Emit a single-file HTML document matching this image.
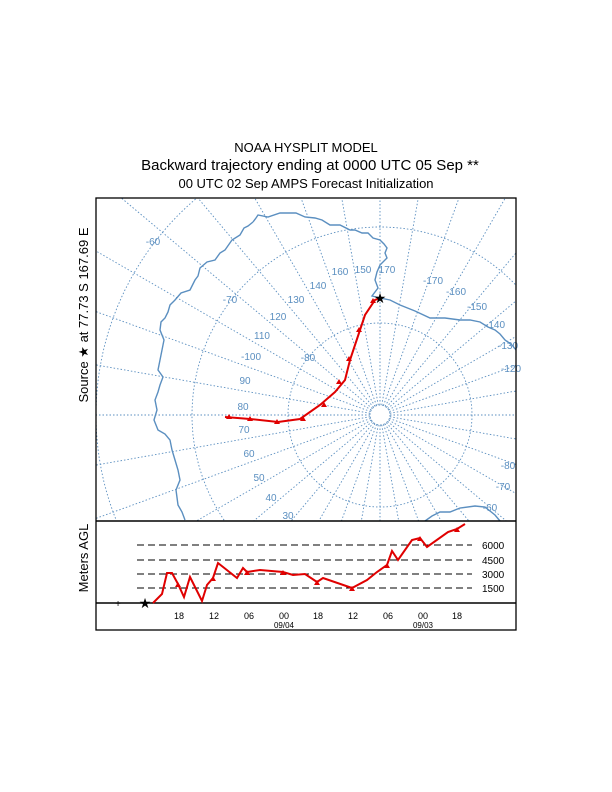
<!DOCTYPE html>
<html><head><style>
html,body{margin:0;padding:0;background:#fff;width:612px;height:792px;overflow:hidden}
svg{display:block;font-family:"Liberation Sans",sans-serif}
</style></head><body>
<svg width="612" height="792" viewBox="0 0 612 792" xmlns="http://www.w3.org/2000/svg">
<text x="306" y="152" font-size="13" text-anchor="middle">NOAA HYSPLIT MODEL</text>
<text x="310" y="170" font-size="15" text-anchor="middle">Backward trajectory ending at 0000 UTC 05 Sep **</text>
<text x="306" y="188" font-size="13" text-anchor="middle">00 UTC 02 Sep    AMPS  Forecast Initialization</text>
<text transform="translate(88,315) rotate(-90)" font-size="13" text-anchor="middle">Source ★ at  77.73 S  167.69 E</text>
<text transform="translate(88,558) rotate(-90)" font-size="13" text-anchor="middle">Meters AGL</text>
<g stroke="#5b8fc0" fill="none" stroke-width="0.9">
<g stroke-dasharray="1.5,2">
<circle cx="380" cy="415" r="10"/>
<circle cx="380" cy="415" r="92"/>
<path d="M192,415 A188,188 0 0 1 568,415" transform="translate(0,0)"/>
<g id="sp"></g>
<g id="arcs"></g>
</g>
<polyline stroke-width="1.4" points="253,222 256,218 258,215 268,217 280,213 296,213 305,217 315,218 322,220 330,225 340,225 350,230 355,230 362,233 368,233 373,238 380,240 384,244 387,248 385,253 387,258 383,262 380,265 377,272 375,280 378,288 372,296 380,298 390,300 400,305 415,311 430,318 445,318 460,320 470,320 480,322 488,327 495,330 500,334 505,340 512,345 516,350"/>
<polyline stroke-width="1.4" points="253,222 248,226 244,228 240,235 232,240 225,250 220,253 215,260 207,262 200,268 198,276 195,280 190,290 181,293 175,300 170,305 168,312 165,318 161,322 160,330 164,340 162,350 160,360 158,370 163,377 160,385 158,392 155,400 157,410 154,420 158,430 165,434 170,440 172,450 175,460 178,470 180,480 176,490 178,505 182,512 185,520"/>
<polyline stroke-width="1.4" points="425,521 432,516 440,512 450,512 460,508 475,506 485,507 495,515 500,521"/>
</g>
<g font-size="10" fill="#5b8fc0" text-anchor="middle">
<text x="153" y="245">-60</text><text x="230" y="303">-70</text>
<text x="340" y="275">160</text><text x="363" y="273">150</text><text x="387" y="273">170</text>
<text x="318" y="289">140</text><text x="296" y="303">130</text><text x="278" y="320">120</text>
<text x="262" y="339">110</text><text x="251" y="360">-100</text><text x="245" y="384">90</text>
<text x="243" y="410">80</text><text x="244" y="433">70</text><text x="249" y="457">60</text>
<text x="259" y="481">50</text><text x="271" y="501">40</text><text x="288" y="519">30</text>
<text x="308" y="361">-80</text>
<text x="433" y="284">-170</text><text x="456" y="295">-160</text><text x="477" y="310">-150</text>
<text x="495" y="328">-140</text><text x="508" y="349">-130</text><text x="511" y="372">-120</text>
<text x="508" y="469">-80</text><text x="503" y="490">-70</text><text x="490" y="511">-60</text>
</g>
<g fill="none" stroke="#e00000" stroke-width="2">
<polyline points="225,417 250,419 278,422 300,419 320,405 335,392 345,380 350,360 356,342 360,330 365,315 375,300 380,298"/>
</g>
<g fill="#e00000">
<path d="M229,414l3,5h-6z M250,416l3,5h-6z M277,419l3,5h-6z M303,416l3,5h-6z M324,402l3,5h-6z M339,379l3,5h-6z M349,356l3,5h-6z M359,327l3,5h-6z M373,298l3,5h-6z"/>
</g>
<text x="380" y="303" font-size="14" text-anchor="middle">★</text>
<rect x="96" y="198" width="420" height="432" fill="none" stroke="#000" stroke-width="1.3"/>
<line x1="96" y1="521" x2="516" y2="521" stroke="#000" stroke-width="1.5"/>
<line x1="96" y1="603" x2="516" y2="603" stroke="#000" stroke-width="1.5"/>
<g stroke="#000" stroke-dasharray="7,4" stroke-width="0.9">
<line x1="137" y1="545" x2="472" y2="545"/><line x1="137" y1="560" x2="472" y2="560"/>
<line x1="137" y1="574" x2="472" y2="574"/><line x1="137" y1="588" x2="472" y2="588"/>
</g>
<g font-size="10" text-anchor="start"><text x="482" y="549">6000</text><text x="482" y="564">4500</text><text x="482" y="578">3000</text><text x="482" y="592">1500</text></g>
<g font-size="9" text-anchor="middle">
<text x="179" y="619">18</text><text x="214" y="619">12</text><text x="249" y="619">06</text><text x="284" y="619">00</text><text x="318" y="619">18</text><text x="353" y="619">12</text><text x="388" y="619">06</text><text x="423" y="619">00</text><text x="457" y="619">18</text>
<text x="284" y="628" font-size="8">09/04</text><text x="423" y="628" font-size="8">09/03</text>
</g>
<polyline fill="none" stroke="#e00000" stroke-width="2" points="153,603 162,594 167,573 172,573 178,584 184,597 190,577 202,601 207,585 213,578 218,563 237,578 243,568 247,572 260,570 283,572 293,575 305,574 317,582 323,578 352,588 367,580 377,572 387,565 392,551 398,560 412,540 420,538 427,547 448,532 457,529 465,524"/>
<g fill="#e00000"><path d="M178,582l3,5h-6z M213,576l3,5h-6z M247,570l3,5h-6z M283,570l3,5h-6z M317,580l3,5h-6z M352,586l3,5h-6z M387,563l3,5h-6z M420,536l3,5h-6z M457,527l3,5h-6z"/></g>
<text x="145" y="608" font-size="14" text-anchor="middle">★</text>
<text x="118" y="607" font-size="10" text-anchor="middle">+</text>
</svg>
<script>
(function(){
var X0=96,X1=516,Y0=198,Y1=521,cx=380,cy=415;
var g=document.getElementById('sp'),s='';
for(var L=0;L<360;L+=10){var t=(260-L)*Math.PI/180,dx=Math.cos(t),dy=-Math.sin(t);
var m=1e9;if(dx>1e-9)m=Math.min(m,(X1-cx)/dx);if(dx<-1e-9)m=Math.min(m,(X0-cx)/dx);if(dy>1e-9)m=Math.min(m,(Y1-cy)/dy);if(dy<-1e-9)m=Math.min(m,(Y0-cy)/dy);
s+='<line x1="'+(cx+10*dx)+'" y1="'+(cy+10*dy)+'" x2="'+(cx+m*dx)+'" y2="'+(cy+m*dy)+'"/>';}
g.innerHTML=s;
// clipped arcs as polylines
var a='';[188,284].forEach(function(r){var pts=[];for(var i=0;i<=720;i++){var t=i*Math.PI/360,x=cx+r*Math.cos(t),y=cy-r*Math.sin(t);
if(x>=X0&&x<=X1&&y>=Y0&&y<=Y1){pts.push(x.toFixed(1)+','+y.toFixed(1));}else{if(pts.length>1)a+='<polyline points="'+pts.join(' ')+'"/>';pts=[];}}
if(pts.length>1)a+='<polyline points="'+pts.join(' ')+'"/>';});
document.getElementById('arcs').innerHTML=a;
var p=document.querySelector('path[d^="M192,415"]');p.parentNode.removeChild(p);
})();
</script>
</body></html>
